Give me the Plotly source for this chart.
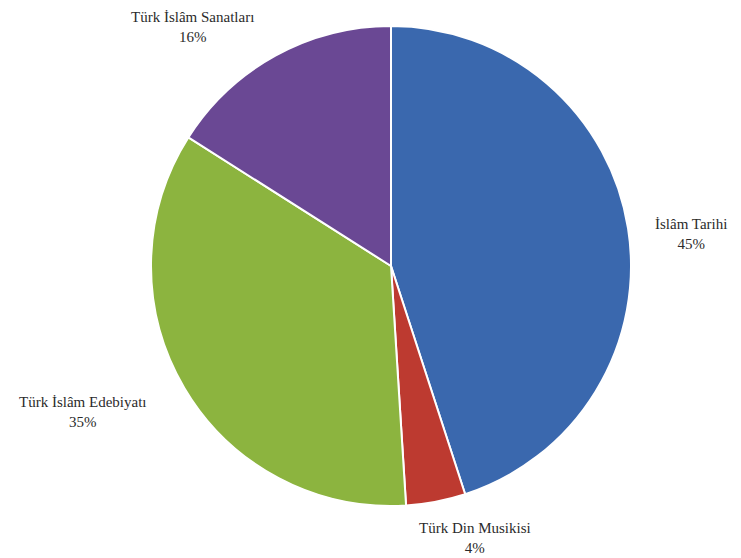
import plotly.graph_objects as go

labels = ["İslâm Tarihi", "Türk Din Musikisi", "Türk İslâm Edebiyatı", "Türk İslâm Sanatları"]
values = [45, 4, 35, 16]
colors = ["#3a68ae", "#bd3a30", "#8cb43f", "#6a4894"]
# label anchor positions (pixels in the 741x558 canvas)
label_px = [(683, 226), (467, 530), (74, 404), (184, 19)]

W, H = 741, 558
cx, cy, r = 383, 258, 240

fig = go.Figure(go.Pie(
    labels=labels, values=values, sort=False, direction="clockwise", rotation=0,
    marker=dict(colors=colors, line=dict(color="white", width=2)),
    textinfo="none", hoverinfo="label+percent", showlegend=False,
    domain=dict(x=[(cx - r) / W, (cx + r) / W], y=[1 - (cy + r) / H, 1 - (cy - r) / H]),
))

for lab, val, (px, py) in zip(labels, values, label_px):
    fig.add_annotation(
        x=px / W, y=1 - py / H, xref="paper", yref="paper",
        text=f"{lab}<br>{val}%", showarrow=False, align="center",
        xanchor="center", yanchor="middle",
        font=dict(family="Times New Roman, DejaVu Serif, serif", size=15, color="#2b2b2b"),
    )

fig.update_layout(
    width=W, height=H, margin=dict(l=0, r=0, t=0, b=0),
    paper_bgcolor="white", plot_bgcolor="white",
    font=dict(family="Times New Roman, DejaVu Serif, serif"),
)
fig.write_html("out.html")
